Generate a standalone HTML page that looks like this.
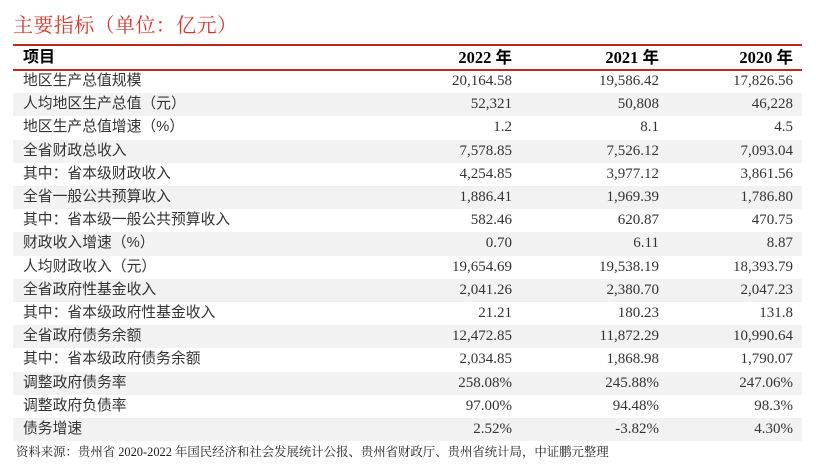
<!DOCTYPE html>
<html>
<head>
<meta charset="utf-8">
<style>
  html, body { margin:0; padding:0; }
  body { width:816px; height:465px; background:#fff; position:relative; overflow:hidden; }
  .title { position:absolute; left:13px; top:14px; font-family:"Liberation Serif","Noto Serif CJK SC",serif; font-size:20px; line-height:24px; color:#d9362c; white-space:nowrap; letter-spacing:0.4px; }
  .rl { position:absolute; left:13px; width:789px; height:2px; background:#c0281e; }
  .hdr { position:absolute; left:13px; top:46px; width:789px; height:23px; line-height:23px; }
  .hdr .lab { position:absolute; left:10px; top:0; font-family:"Liberation Sans","Noto Sans CJK SC",sans-serif; font-weight:bold; font-size:16px; color:#000; }
  .hdr .c { position:absolute; top:0; font-family:"Liberation Serif","Noto Sans CJK SC",serif; font-weight:bold; font-size:16.5px; color:#000; white-space:nowrap; }
  .row { position:absolute; left:13px; width:789px; height:23.2px; line-height:23.2px; }
  .row.g { background:#f2f2f2; }
  .row .lab { position:absolute; left:10px; top:0; font-family:"Liberation Sans","Noto Sans CJK SC",sans-serif; font-size:14.8px; color:#333; white-space:nowrap; }
  .c { position:absolute; top:0; font-family:"Liberation Serif",serif; font-size:15px; color:#333; white-space:nowrap; }
  .c1 { right:290px; }
  .c2 { right:143px; }
  .c3 { right:9px; }
  .foot { position:absolute; left:16px; top:444px; font-family:"Liberation Serif","Noto Serif CJK SC",serif; font-size:12.4px; line-height:16px; color:#222; white-space:nowrap; }
</style>
</head>
<body>
<div class="title">主要指标（单位：亿元）</div>
<div class="rl" style="top:44px;"></div>
<div class="hdr">
  <span class="lab">项目</span>
  <span class="c c1">2022 年</span>
  <span class="c c2">2021 年</span>
  <span class="c c3">2020 年</span>
</div>
<div class="rl" style="top:69px;"></div>

<div class="row" style="top:71px;height:22.2px;line-height:21.6px;"><span class="lab">地区生产总值规模</span><span class="c c1">20,164.58</span><span class="c c2">19,586.42</span><span class="c c3">17,826.56</span></div>
<div class="row g" style="top:93.2px;"><span class="lab">人均地区生产总值（元）</span><span class="c c1">52,321</span><span class="c c2">50,808</span><span class="c c3">46,228</span></div>
<div class="row" style="top:116.4px;"><span class="lab">地区生产总值增速（%）</span><span class="c c1">1.2</span><span class="c c2">8.1</span><span class="c c3">4.5</span></div>
<div class="row g" style="top:139.6px;"><span class="lab">全省财政总收入</span><span class="c c1">7,578.85</span><span class="c c2">7,526.12</span><span class="c c3">7,093.04</span></div>
<div class="row" style="top:162.8px;"><span class="lab">其中：省本级财政收入</span><span class="c c1">4,254.85</span><span class="c c2">3,977.12</span><span class="c c3">3,861.56</span></div>
<div class="row g" style="top:186px;"><span class="lab">全省一般公共预算收入</span><span class="c c1">1,886.41</span><span class="c c2">1,969.39</span><span class="c c3">1,786.80</span></div>
<div class="row" style="top:209.2px;"><span class="lab">其中：省本级一般公共预算收入</span><span class="c c1">582.46</span><span class="c c2">620.87</span><span class="c c3">470.75</span></div>
<div class="row g" style="top:232.4px;"><span class="lab">财政收入增速（%）</span><span class="c c1">0.70</span><span class="c c2">6.11</span><span class="c c3">8.87</span></div>
<div class="row" style="top:255.6px;"><span class="lab">人均财政收入（元）</span><span class="c c1">19,654.69</span><span class="c c2">19,538.19</span><span class="c c3">18,393.79</span></div>
<div class="row g" style="top:278.8px;"><span class="lab">全省政府性基金收入</span><span class="c c1">2,041.26</span><span class="c c2">2,380.70</span><span class="c c3">2,047.23</span></div>
<div class="row" style="top:302px;"><span class="lab">其中：省本级政府性基金收入</span><span class="c c1">21.21</span><span class="c c2">180.23</span><span class="c c3">131.8</span></div>
<div class="row g" style="top:325.2px;"><span class="lab">全省政府债务余额</span><span class="c c1">12,472.85</span><span class="c c2">11,872.29</span><span class="c c3">10,990.64</span></div>
<div class="row" style="top:348.4px;"><span class="lab">其中：省本级政府债务余额</span><span class="c c1">2,034.85</span><span class="c c2">1,868.98</span><span class="c c3">1,790.07</span></div>
<div class="row g" style="top:371.6px;"><span class="lab">调整政府债务率</span><span class="c c1">258.08%</span><span class="c c2">245.88%</span><span class="c c3">247.06%</span></div>
<div class="row" style="top:394.8px;"><span class="lab">调整政府负债率</span><span class="c c1">97.00%</span><span class="c c2">94.48%</span><span class="c c3">98.3%</span></div>
<div class="row g" style="top:418px;"><span class="lab">债务增速</span><span class="c c1">2.52%</span><span class="c c2">-3.82%</span><span class="c c3">4.30%</span></div>

<div class="foot">资料来源：贵州省 2020-2022 年国民经济和社会发展统计公报、贵州省财政厅、贵州省统计局，中证鹏元整理</div>
</body>
</html>
